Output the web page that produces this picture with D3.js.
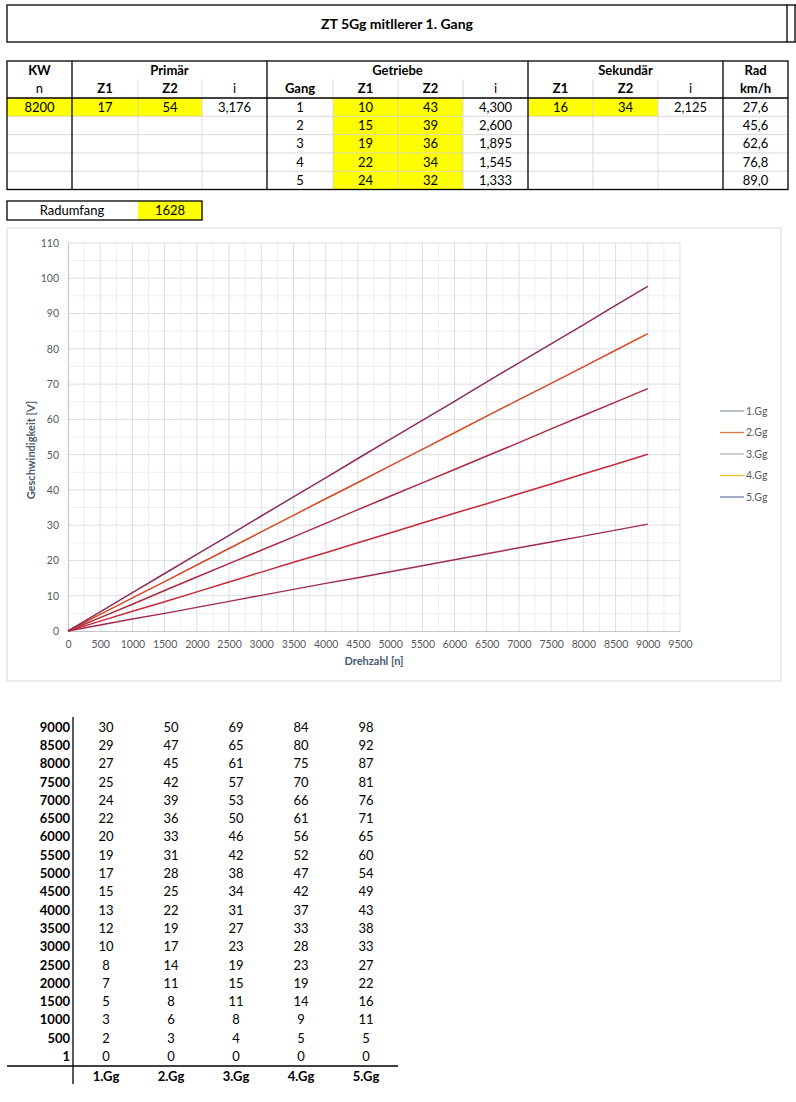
<!DOCTYPE html>
<html>
<head>
<meta charset="utf-8">
<script src="https://cdn.jsdelivr.net/npm/d3@7"></script>
<style>
  html, body { margin: 0; padding: 0; background: #fff; }
  svg { display: block; font-family: Lato, "Open Sans", sans-serif; }
</style>
</head>
<body>
<div id="page"></div>
<script>
// ---- data read from the sheet ----
const TITLE = "ZT 5Gg mitllerer 1. Gang";

const HEADER_GROUPS = [
  { label: "KW", from: 0, to: 0 },
  { label: "Primär", from: 1, to: 3 },
  { label: "Getriebe", from: 4, to: 7 },
  { label: "Sekundär", from: 8, to: 10 },
  { label: "Rad", from: 11, to: 11 },
];
const HEADER_SUB = ["n", "Z1", "Z2", "i", "Gang", "Z1", "Z2", "i", "Z1", "Z2", "i", "km/h"];
const HEADER_SUB_BOLD = [false, true, true, false, true, true, true, false, true, true, false, true];

const kwN = ["8200"];
const primZ1 = ["17"];
const primZ2 = ["54"];
const primI = ["3,176"];
const gangNr = ["1", "2", "3", "4", "5"];
const getZ1 = ["10", "15", "19", "22", "24"];
const getZ2 = ["43", "39", "36", "34", "32"];
const getI = ["4,300", "2,600", "1,895", "1,545", "1,333"];
const sekZ1 = ["16"];
const sekZ2 = ["34"];
const sekI = ["2,125"];
const radKmh = ["27,6", "45,6", "62,6", "76,8", "89,0"];
const RADUMFANG = "1628";

// table below the chart (rounded, as printed)
const gears = ["1.Gg", "2.Gg", "3.Gg", "4.Gg", "5.Gg"];
const rpm = [9000, 8500, 8000, 7500, 7000, 6500, 6000, 5500, 5000, 4500, 4000, 3500, 3000, 2500, 2000, 1500, 1000, 500, 1];
const gear1 = [30, 29, 27, 25, 24, 22, 20, 19, 17, 15, 13, 12, 10, 8, 7, 5, 3, 2, 0];
const gear2 = [50, 47, 45, 42, 39, 36, 33, 31, 28, 25, 22, 19, 17, 14, 11, 8, 6, 3, 0];
const gear3 = [69, 65, 61, 57, 53, 50, 46, 42, 38, 34, 31, 27, 23, 19, 15, 11, 8, 4, 0];
const gear4 = [84, 80, 75, 70, 66, 61, 56, 52, 47, 42, 37, 33, 28, 23, 19, 14, 9, 5, 0];
const gear5 = [98, 92, 87, 81, 76, 71, 65, 60, 54, 49, 43, 38, 33, 27, 22, 16, 11, 5, 0];
const gearValues = [gear1, gear2, gear3, gear4, gear5];

// values as plotted in the chart (unrounded)
const line1 = [30.3, 28.6, 26.9, 25.2, 23.6, 21.9, 20.2, 18.5, 16.8, 15.1, 13.5, 11.8, 10.1, 8.4, 6.7, 5.0, 3.4, 1.7, 0];
const line2 = [50.1, 47.3, 44.5, 41.7, 38.9, 36.1, 33.4, 30.6, 27.8, 25.0, 22.2, 19.5, 16.7, 13.9, 11.1, 8.3, 5.6, 2.8, 0];
const line3 = [68.7, 64.9, 61.1, 57.3, 53.4, 49.6, 45.8, 42.0, 38.2, 34.4, 30.5, 26.7, 22.9, 19.1, 15.3, 11.5, 7.6, 3.8, 0];
const line4 = [84.3, 79.6, 74.9, 70.2, 65.6, 60.9, 56.2, 51.5, 46.8, 42.1, 37.5, 32.8, 28.1, 23.4, 18.7, 14.0, 9.4, 4.7, 0];
const line5 = [97.7, 92.3, 86.8, 81.4, 76.0, 70.6, 65.1, 59.7, 54.3, 48.9, 43.4, 38.0, 32.6, 27.1, 21.7, 16.3, 10.9, 5.4, 0];
const lineValues = [line1, line2, line3, line4, line5];

const lineColors = ["#a32b4e", "#c9283a", "#ad2a42", "#d8461f", "#8c2c5c"];
const legendColors = ["#8fa1b6", "#e07a36", "#b4b4b4", "#f2c02a", "#6b7ea2"];

const X_TICKS = d3.range(0, 9501, 500);
const Y_TICKS = d3.range(0, 111, 10);

// ---- layout ----
const W = 796, H = 1102;
const COLS = [7, 72, 138, 202, 267, 333, 398, 463, 528, 593, 658, 723, 788];
const ROWS = [61, 79.5, 98, 116.3, 134.6, 152.9, 171.2, 189.5];
const THICK_COLS = [72, 267, 528, 723];
const YELLOW = "#ffff00";
const FS = 13;

const svg = d3.select("#page").append("svg").attr("width", W).attr("height", H);

function drawTitle() {
  const g = svg.append("g");
  g.append("rect").attr("x", 7).attr("y", 5).attr("width", 780).attr("height", 37)
    .attr("fill", "none").attr("stroke", "#000").attr("stroke-width", 1.3);
  g.append("line").attr("x1", 795).attr("x2", 795).attr("y1", 5).attr("y2", 42)
    .attr("stroke", "#000").attr("stroke-width", 1.3);
  g.append("line").attr("x1", 787).attr("x2", 796).attr("y1", 5).attr("y2", 5)
    .attr("stroke", "#000").attr("stroke-width", 1.3);
  g.append("line").attr("x1", 787).attr("x2", 796).attr("y1", 42).attr("y2", 42)
    .attr("stroke", "#000").attr("stroke-width", 1.3);
  g.append("text").attr("x", 397).attr("y", 24).attr("dy", "0.35em")
    .attr("text-anchor", "middle").attr("font-size", 14).attr("font-weight", "bold")
    .text(TITLE);
}

function cellText(g, col, row, txt, bold) {
  g.append("text")
    .attr("x", (COLS[col] + COLS[col + 1]) / 2)
    .attr("y", (ROWS[row] + ROWS[row + 1]) / 2)
    .attr("dy", "0.36em")
    .attr("text-anchor", "middle")
    .attr("font-size", FS)
    .attr("font-weight", bold ? "bold" : "normal")
    .text(txt);
}

function drawTable() {
  const g = svg.append("g");

  // body cells: [column index, values, yellow?]
  const bodyCols = [
    [0, kwN, true], [1, primZ1, true], [2, primZ2, true], [3, primI, false],
    [4, gangNr, false], [5, getZ1, true], [6, getZ2, true], [7, getI, false],
    [8, sekZ1, true], [9, sekZ2, true], [10, sekI, false], [11, radKmh, false],
  ];

  bodyCols.forEach(([c, vals, yellow]) => {
    vals.forEach((v, r) => {
      if (yellow) {
        g.append("rect").attr("x", COLS[c]).attr("y", ROWS[r + 2])
          .attr("width", COLS[c + 1] - COLS[c]).attr("height", ROWS[r + 3] - ROWS[r + 2])
          .attr("fill", YELLOW);
      }
    });
  });

  // thin grid
  const thin = "#cfcfcf";
  COLS.slice(1, -1).filter((x) => !THICK_COLS.includes(x)).forEach((x) => {
    g.append("line").attr("x1", x).attr("x2", x).attr("y1", ROWS[1]).attr("y2", ROWS[7])
      .attr("stroke", thin).attr("stroke-width", 0.8);
  });
  ROWS.slice(3, -1).forEach((y) => {
    g.append("line").attr("x1", COLS[0]).attr("x2", COLS[12]).attr("y1", y).attr("y2", y)
      .attr("stroke", thin).attr("stroke-width", 0.8);
  });

  // thick borders
  g.append("rect").attr("x", COLS[0]).attr("y", ROWS[0])
    .attr("width", COLS[12] - COLS[0]).attr("height", ROWS[7] - ROWS[0])
    .attr("fill", "none").attr("stroke", "#000").attr("stroke-width", 1.3);
  THICK_COLS.forEach((x) => {
    g.append("line").attr("x1", x).attr("x2", x).attr("y1", ROWS[0]).attr("y2", ROWS[7])
      .attr("stroke", "#000").attr("stroke-width", 1.3);
  });
  g.append("line").attr("x1", COLS[0]).attr("x2", COLS[12]).attr("y1", ROWS[2]).attr("y2", ROWS[2])
    .attr("stroke", "#000").attr("stroke-width", 1.3);

  // headers
  HEADER_GROUPS.forEach((h) => {
    g.append("text")
      .attr("x", (COLS[h.from] + COLS[h.to + 1]) / 2)
      .attr("y", (ROWS[0] + ROWS[1]) / 2).attr("dy", "0.36em")
      .attr("text-anchor", "middle").attr("font-size", FS).attr("font-weight", "bold")
      .text(h.label);
  });
  HEADER_SUB.forEach((t, c) => cellText(g, c, 1, t, HEADER_SUB_BOLD[c]));

  bodyCols.forEach(([c, vals]) => {
    vals.forEach((v, r) => cellText(g, c, r + 2, v, false));
  });

  // Radumfang
  const ry = 201, rh = 19;
  g.append("rect").attr("x", 138).attr("y", ry).attr("width", 64).attr("height", rh).attr("fill", YELLOW);
  g.append("rect").attr("x", 7).attr("y", ry).attr("width", 195).attr("height", rh)
    .attr("fill", "none").attr("stroke", "#000").attr("stroke-width", 1.3);
  g.append("text").attr("x", 72).attr("y", ry + rh / 2).attr("dy", "0.36em")
    .attr("text-anchor", "middle").attr("font-size", FS).text("Radumfang");
  g.append("text").attr("x", 170).attr("y", ry + rh / 2).attr("dy", "0.36em")
    .attr("text-anchor", "middle").attr("font-size", FS).text(RADUMFANG);
}

function drawChart() {
  const box = { x: 7, y: 228, w: 774, h: 453 };
  const plot = { left: 68, right: 680, top: 243, bottom: 631 };
  const g = svg.append("g");

  g.append("rect").attr("x", box.x).attr("y", box.y).attr("width", box.w).attr("height", box.h)
    .attr("fill", "#fff").attr("stroke", "#d9d9d9").attr("stroke-width", 1);

  const x = d3.scaleLinear().domain([0, 9500]).range([plot.left, plot.right]);
  const y = d3.scaleLinear().domain([0, 110]).range([plot.bottom, plot.top]);

  // minor grid
  g.append("g").selectAll("line").data(d3.range(250, 9500, 500)).join("line")
    .attr("x1", (d) => x(d)).attr("x2", (d) => x(d))
    .attr("y1", plot.top).attr("y2", plot.bottom)
    .attr("stroke", "#eeeef2").attr("stroke-width", 1);
  g.append("g").selectAll("line").data(d3.range(5, 110, 10)).join("line")
    .attr("x1", plot.left).attr("x2", plot.right)
    .attr("y1", (d) => y(d)).attr("y2", (d) => y(d))
    .attr("stroke", "#eeeef2").attr("stroke-width", 1);

  // major grid
  g.append("g").selectAll("line").data(X_TICKS.slice(1)).join("line")
    .attr("x1", (d) => x(d)).attr("x2", (d) => x(d))
    .attr("y1", plot.top).attr("y2", plot.bottom)
    .attr("stroke", "#dcdde3").attr("stroke-width", 1);
  g.append("g").selectAll("line").data(Y_TICKS.slice(1)).join("line")
    .attr("x1", plot.left).attr("x2", plot.right)
    .attr("y1", (d) => y(d)).attr("y2", (d) => y(d))
    .attr("stroke", "#dcdde3").attr("stroke-width", 1);

  // axes
  const xAxis = d3.axisBottom(x).tickValues(X_TICKS).tickSize(0).tickPadding(10).tickFormat(d3.format("d"));
  const yAxis = d3.axisLeft(y).tickValues(Y_TICKS).tickSize(0).tickPadding(9).tickFormat(d3.format("d"));
  const xa = g.append("g").attr("transform", `translate(0,${plot.bottom})`).call(xAxis);
  const ya = g.append("g").attr("transform", `translate(${plot.left},0)`).call(yAxis);
  [xa, ya].forEach((a) => {
    a.select(".domain").attr("stroke", "#c3c7d0").attr("stroke-width", 1.2);
    a.selectAll("text").attr("fill", "#595959").attr("font-size", 10.5)
      .attr("font-family", "Lato, 'Open Sans', sans-serif");
  });

  // axis titles
  g.append("text").attr("x", (plot.left + plot.right) / 2).attr("y", 665)
    .attr("text-anchor", "middle").attr("font-size", 11).attr("font-weight", "bold")
    .attr("fill", "#4a5a72").text("Drehzahl [n]");
  g.append("text").attr("transform", `translate(35,450) rotate(-90)`)
    .attr("text-anchor", "middle").attr("font-size", 11).attr("font-weight", "bold")
    .attr("fill", "#4a5a72").text("Geschwindigkeit [V]");

  // lines
  const line = d3.line().x((d) => x(d[0])).y((d) => y(d[1]));
  lineValues.forEach((vals, i) => {
    const pts = rpm.map((n, k) => [n, vals[k]]).reverse();
    g.append("path").datum(pts).attr("d", line)
      .attr("fill", "none").attr("stroke", lineColors[i]).attr("stroke-width", 1.5);
  });

  // legend
  const lg = g.append("g").attr("transform", "translate(720,411)");
  gears.forEach((name, i) => {
    const row = lg.append("g").attr("transform", `translate(0,${i * 21.5})`);
    row.append("line").attr("x1", 0).attr("x2", 24).attr("y1", 0).attr("y2", 0)
      .attr("stroke", legendColors[i]).attr("stroke-width", 1.3);
    row.append("text").attr("x", 26).attr("y", 0).attr("dy", "0.35em")
      .attr("font-size", 10.5).attr("fill", "#595959").text(name);
  });
}

function drawDataTable() {
  const g = svg.append("g");
  const top = 727, step = 18.3;
  const colX = [106, 171, 236, 301, 366];

  rpm.forEach((n, r) => {
    const yy = top + r * step;
    g.append("text").attr("x", 70).attr("y", yy).attr("dy", "0.36em")
      .attr("text-anchor", "end").attr("font-size", FS).attr("font-weight", "bold").text(n);
    gearValues.forEach((vals, c) => {
      g.append("text").attr("x", colX[c]).attr("y", yy).attr("dy", "0.36em")
        .attr("text-anchor", "middle").attr("font-size", FS).text(vals[r]);
    });
  });
  gears.forEach((name, c) => {
    g.append("text").attr("x", colX[c]).attr("y", 1076).attr("dy", "0.36em")
      .attr("text-anchor", "middle").attr("font-size", FS).attr("font-weight", "bold").text(name);
  });
  g.append("line").attr("x1", 73).attr("x2", 73).attr("y1", 717).attr("y2", 1084)
    .attr("stroke", "#000").attr("stroke-width", 1.3);
  g.append("line").attr("x1", 7).attr("x2", 398).attr("y1", 1066).attr("y2", 1066)
    .attr("stroke", "#000").attr("stroke-width", 1.3);
}

drawTitle();
drawTable();
drawChart();
drawDataTable();
</script>
</body>
</html>
